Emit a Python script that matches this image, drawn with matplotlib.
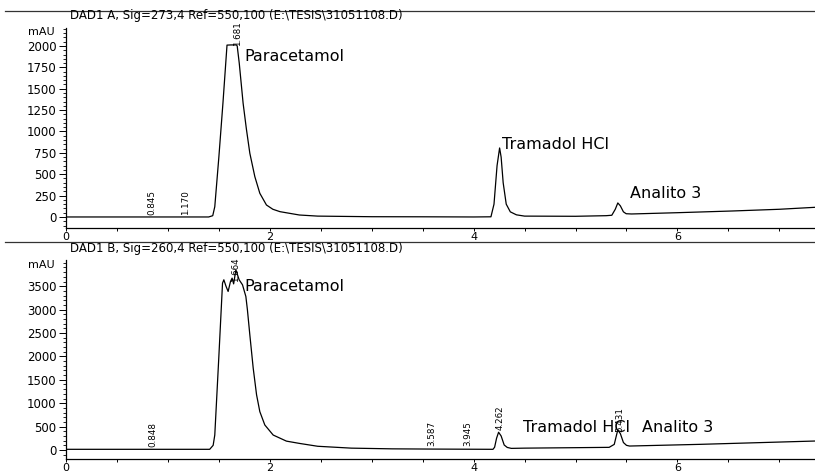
import matplotlib
matplotlib.use("Agg")
import matplotlib.pyplot as plt
from matplotlib.lines import Line2D
from matplotlib.ticker import MultipleLocator

# signal A (273 nm)
t_a = [0, 1.40, 1.44, 1.46, 1.50, 1.54, 1.58, 1.62, 1.65, 1.672, 1.68, 1.70, 1.738,
       1.77, 1.804, 1.853, 1.902, 1.967, 2.03, 2.10, 2.29, 2.47, 3.00, 3.50, 4.00,
       4.17, 4.20, 4.23, 4.255, 4.27, 4.29, 4.32, 4.36, 4.42, 4.50, 5.00, 5.30,
       5.356, 5.39, 5.415, 5.44, 5.47, 5.497, 5.55, 6.00, 6.54, 7.00, 7.35]
mau_a = [0, 0, 15, 120, 700, 1330, 2010, 2012, 2012, 2012, 2000, 1800, 1330,
         1030, 745, 472, 277, 140, 90, 62, 23, 10, 3, 2, 0,
         2, 150, 600, 807, 700, 400, 150, 60, 25, 10, 8, 15,
         20, 90, 164, 130, 60, 38, 35, 50, 70, 90, 113]

# signal B (260 nm)
t_b = [0, 1.41, 1.444, 1.46, 1.50, 1.536, 1.549, 1.57, 1.591, 1.614, 1.63, 1.645,
       1.667, 1.699, 1.732, 1.765, 1.78, 1.804, 1.837, 1.87, 1.902, 1.951, 2.033,
       2.163, 2.294, 2.47, 2.80, 3.20, 3.60, 4.19, 4.206, 4.225, 4.245, 4.27, 4.30,
       4.33, 4.37, 4.50, 5.00, 5.33, 5.38, 5.40, 5.415, 5.44, 5.47, 5.50, 5.53,
       6.22, 7.35]
mau_b = [15, 15, 100, 320, 2000, 3566, 3637, 3500, 3388, 3600, 3672, 3550,
         3850, 3637, 3530, 3280, 3000, 2460, 1750, 1180, 820, 535, 320,
         190, 140, 80, 40, 25, 20, 15, 60, 250, 380, 300, 107,
         55, 35, 40, 50, 57, 120, 300, 430, 350, 160, 100, 85,
         121, 192]

titles = ["DAD1 A, Sig=273,4 Ref=550,100 (E:\\TESIS\\31051108.D)",
          "DAD1 B, Sig=260,4 Ref=550,100 (E:\\TESIS\\31051108.D)"]

# retention time labels: (time, height where label starts)
rt_a = [0.845, 1.170, 1.681]
rt_a_h = [20, 20, 2000]
rt_b = [0.848, 1.664, 3.587, 3.945, 4.262, 5.431]
rt_b_h = [70, 3600, 85, 85, 430, 380]

# compound names: (time, height)
names_a = ["Paracetamol", "Tramadol HCl", "Analito 3"]
names_a_pos = [(1.755, 1880), (4.28, 842), (5.53, 270)]
names_b = ["Paracetamol", "Tramadol HCl", "Analito 3"]
names_b_pos = [(1.755, 3500), (4.48, 490), (5.65, 490)]

fig = plt.figure(figsize=(8.15, 4.73), dpi=100)
W = (815 - 66) / 815

ax1 = fig.add_axes([66 / 815, 1 - 228 / 473, W, 200 / 473])
ax2 = fig.add_axes([66 / 815, 1 - 459 / 473, W, 199 / 473])

panels = [
    (ax1, t_a, mau_a, (-129, 2210), 250, 50, rt_a, rt_a_h, names_a, names_a_pos, 2163),
    (ax2, t_b, mau_b, (-192, 4060), 500, 100, rt_b, rt_b_h, names_b, names_b_pos, 3950),
]

for ax, t, y, ylim, major, minor, rt, rth, names, npos, mau_y in panels:
    ax.plot(t, y, color="black", lw=0.9)
    ax.set_xlim(0, 7.35)
    ax.set_ylim(*ylim)
    for s in ["top", "right"]:
        ax.spines[s].set_visible(False)
    for s in ["left", "bottom"]:
        ax.spines[s].set_linewidth(0.9)
    ax.xaxis.set_major_locator(MultipleLocator(2))
    ax.xaxis.set_minor_locator(MultipleLocator(0.5))
    ax.yaxis.set_major_locator(MultipleLocator(major))
    ax.yaxis.set_minor_locator(MultipleLocator(minor))
    ax.set_yticks([v for v in range(0, int(ylim[1]) - 100, major)])
    ax.tick_params(axis="y", which="major", length=5, width=0.7, labelsize=8.5, pad=2)
    ax.tick_params(axis="y", which="minor", length=2, width=0.6)
    ax.tick_params(axis="x", which="both", length=2.5, width=0.7, labelsize=8, pad=0.5)
    ax.annotate("mAU", xy=(0, mau_y), xycoords=("axes fraction", "data"),
                xytext=(-8, 0), textcoords="offset points",
                ha="right", va="center", fontsize=8)
    for tr, h in zip(rt, rth):
        ax.text(tr, h, "%.3f" % tr, rotation=90, ha="center", va="bottom",
                fontsize=6.3)
    for nm, (x, h) in zip(names, npos):
        ax.text(x, h, nm, ha="left", va="center", fontsize=11.5)

# separator lines and headers
for yy in [1 - 11 / 473, 1 - 242 / 473]:
    fig.add_artist(Line2D([0.006, 1], [yy, yy], color="#333333", lw=0.9))
fig.text(70 / 815, 1 - 16 / 473, titles[0], fontsize=8.5, va="center", ha="left")
fig.text(70 / 815, 1 - 248 / 473, titles[1], fontsize=8.5, va="center", ha="left")

fig.savefig("out.png", dpi=100)
